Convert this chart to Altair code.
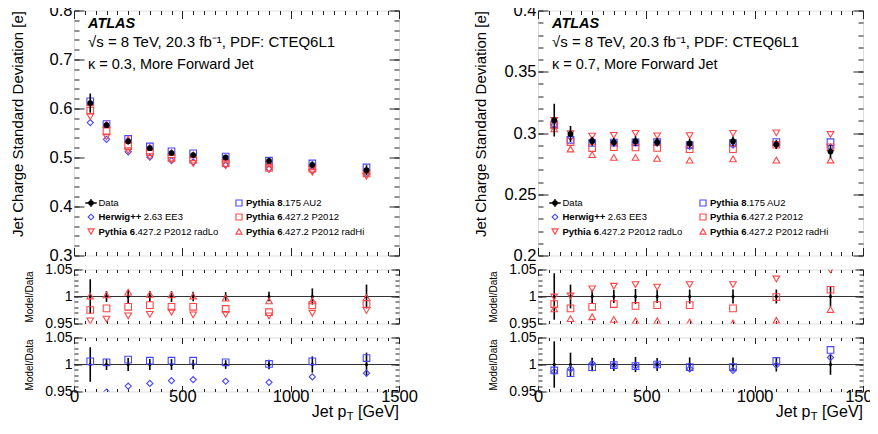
import altair as alt
import numpy as np
import pandas as pd

# ---------------- values ----------------
pt_bins = [75, 150, 250, 350, 450, 550, 700, 900, 1100, 1350]   # jet pT [GeV]

# kappa = 0.3, more forward jet
data_k03 = [0.611, 0.566, 0.533, 0.519, 0.509, 0.505, 0.500, 0.493, 0.485, 0.474]
relerr_k03 = [0.032, 0.010, 0.012, 0.010, 0.010, 0.009, 0.008, 0.009, 0.015, 0.022]
ratio_p6_k03 = [0.975, 0.978, 0.981, 0.984, 0.981, 0.981, 0.977, 0.971, 0.984, 0.986]
ratio_radlo_k03 = [0.955, 0.958, 0.964, 0.967, 0.971, 0.966, 0.967, 0.964, 0.969, 0.974]
ratio_radhi_k03 = [1.001, 1.003, 1.008, 1.004, 1.003, 1.001, 0.997, 0.992, 0.992, 0.998]
ratio_p8_k03 = [1.006, 1.004, 1.009, 1.007, 1.007, 1.007, 1.004, 1.001, 1.006, 1.012]
ratio_hw_k03 = [0.935, 0.949, 0.960, 0.965, 0.970, 0.972, 0.969, 0.967, 0.977, 0.984]

# kappa = 0.7, more forward jet
data_k07 = [0.3105, 0.2992, 0.2933, 0.2925, 0.2933, 0.2925, 0.2915, 0.2933, 0.2907, 0.2848]
relerr_k07 = [0.043, 0.022, 0.0125, 0.012, 0.014, 0.012, 0.013, 0.013, 0.013, 0.019]
ratio_p6_k07 = [0.986, 0.978, 0.981, 0.986, 0.9825, 0.984, 0.984, 0.978, 0.999, 1.0125]
ratio_radlo_k07 = [0.999, 1.001, 1.014, 1.019, 1.022, 1.0175, 1.022, 1.022, 1.0325, 1.049]
ratio_radhi_k07 = [0.977, 0.959, 0.9625, 0.9575, 0.955, 0.955, 0.953, 0.951, 0.956, 0.976]
ratio_p8_k07 = [0.989, 0.984, 0.995, 0.999, 0.997, 1.000, 0.995, 0.995, 1.0065, 1.027]
ratio_hw_k07 = [0.987, 0.992, 1.002, 0.999, 0.997, 1.000, 0.992, 0.989, 0.999, 1.013]

# text
atlas_label = "ATLAS"
energy_label = "\u221as = 8 TeV, 20.3 fb\u207b\u00b9, PDF: CTEQ6L1"
kappa_labels = ["\u03ba = 0.3, More Forward Jet", "\u03ba = 0.7, More Forward Jet"]
ytitle_main = "Jet Charge Standard Deviation [e]"
ytitle_ratio = "Model/Data"
x_ticks_major = [0, 500, 1000, 1500]
y_ticks_k03 = [0.3, 0.4, 0.5, 0.6, 0.7, 0.8]
y_ticks_k07 = [0.2, 0.25, 0.3, 0.35, 0.4]
y_ticks_ratio = [0.95, 1.0, 1.05]
legend_data_label = "Data"
legend_models = [
    # key, bold part, normal part, legend column, legend row
    ("hw", "Herwig++", "2.63 EE3", 0, 1),
    ("radlo", "Pythia 6", ".427.2 P2012 radLo", 0, 2),
    ("p8", "Pythia 8", ".175 AU2", 1, 0),
    ("p6", "Pythia 6", ".427.2 P2012", 1, 1),
    ("radhi", "Pythia 6", ".427.2 P2012 radHi", 1, 2),
]

# ---------------- style ----------------
FONT = "Liberation Sans"
BLUE = "#4646ff"
RED = "#ff4646"
STYLE = {
    "p8": dict(shape="square", color=BLUE, size=44),
    "hw": dict(shape="diamond", color=BLUE, size=38),
    "p6": dict(shape="square", color=RED, size=44),
    "radlo": dict(shape="triangle-down", color=RED, size=44),
    "radhi": dict(shape="triangle-up", color=RED, size=44),
}
W, HM, HR = 325, 245, 54
XS = alt.Scale(domain=[0, 1500], nice=False, zero=False)

BOLD_W = {"P": 667, "y": 556, "t": 333, "h": 611, "i": 278, "a": 556, " ": 278,
          "6": 556, "8": 556, "H": 722, "e": 556, "r": 389, "w": 778, "g": 611, "+": 584}


def bold_width(s, size):
    return sum(BOLD_W.get(c, 556) for c in s) * size / 1000.0


def nudge(values, dom):
    eps = (dom[1] - dom[0]) * 1e-7
    out = []
    for v in values:
        if abs(v - dom[0]) < 1e-12:
            v = v + eps
        elif abs(v - dom[1]) < 1e-12:
            v = v - eps
        out.append(v)
    return out


def ax(orient, values, tick, labels=False, title=None, lsize=15, tsize=14, tpad=0,
       anchor=None, lpad=2, fmt=".3~f"):
    kw = dict(orient=orient, values=values, tickSize=tick, offset=-tick, domain=False,
              grid=False, labels=labels, ticks=True, tickColor="#222222", tickWidth=1,
              labelFlush=False, labelOverlap=False, format=fmt, labelFont=FONT,
              labelFontSize=lsize, labelColor="#000000", labelPadding=lpad, title=title)
    if title is not None:
        kw.update(titleFont=FONT, titleFontSize=tsize, titleFontWeight="normal",
                  titleColor="#000000", titlePadding=tpad)
        if anchor:
            kw["titleAnchor"] = anchor
    return alt.Axis(**kw)


def axis_layers(df, yfield, ys, ydom, ymaj, ymin, xlen, ylen, xlabels, ytitle, ylsize,
                ytsize, ytpad, anchor):
    xmaj = nudge(x_ticks_major, [0, 1500])
    xmin = nudge(list(range(0, 1501, 50)), [0, 1500])
    ymaj = nudge(ymaj, ydom)
    ymin = nudge(ymin, ydom)
    specs = [
        (ax("bottom", xmaj, xlen[0], labels=xlabels, lsize=16.5, lpad=-3, fmt=".0f"),
         ax("left", ymaj, ylen[0], labels=True, title=ytitle, lsize=ylsize, tsize=ytsize,
            tpad=ytpad, anchor=anchor)),
        (ax("bottom", xmin, xlen[1]), ax("left", ymin, ylen[1])),
        (ax("top", xmaj, xlen[0]), ax("right", ymaj, ylen[0])),
        (ax("top", xmin, xlen[1]), ax("right", ymin, ylen[1])),
    ]
    out = []
    for a, b in specs:
        out.append(alt.Chart(df).mark_point(opacity=0).encode(
            x=alt.X("pt:Q", scale=XS, axis=a),
            y=alt.Y(yfield, scale=ys, axis=b)))
    return out


def model_layer(df, key, ys, field, clip=False):
    st = STYLE[key]
    return alt.Chart(df).mark_point(shape=st["shape"], filled=False, size=st["size"],
                                    strokeWidth=1.1, color=st["color"], opacity=1,
                                    clip=clip).encode(
        x=alt.X("pt:Q", scale=XS, axis=None),
        y=alt.Y(field, scale=ys, axis=None))


def text_layer(txt, x, y, size, weight="normal", style="normal", align="left",
               baseline="alphabetic"):
    one = pd.DataFrame({"k": [0]})
    return alt.Chart(one).mark_text(font=FONT, fontSize=size, fontWeight=weight,
                                    fontStyle=style, align=align, baseline=baseline,
                                    color="#000000").encode(
        x=alt.value(x), y=alt.value(y), text=alt.value(txt))


def main_panel(data, relerr, ratios, ydom, ymaj, ymin, kappa_text, ytpad):
    d = pd.DataFrame({"pt": pt_bins, "val": data, "err": relerr})
    d["lo"] = d["val"] * (1 - d["err"])
    d["hi"] = d["val"] * (1 + d["err"])
    ys = alt.Scale(domain=ydom, nice=False, zero=False)
    layers = axis_layers(d, "val:Q", ys, ydom, ymaj, ymin, (8, 4), (10, 5), False,
                         ytitle_main, 16.5, 15, ytpad, "end")
    for key in ["hw", "p8", "p6", "radlo", "radhi"]:
        m = pd.DataFrame({"pt": pt_bins,
                          "val": np.array(data) * np.array(ratios[key])})
        layers.append(model_layer(m, key, ys, "val:Q"))
    layers.append(alt.Chart(d).mark_rule(color="#000000", strokeWidth=1.6).encode(
        x=alt.X("pt:Q", scale=XS, axis=None),
        y=alt.Y("lo:Q", scale=ys, axis=None), y2="hi:Q"))
    layers.append(alt.Chart(d).mark_point(shape="circle", filled=True, color="#000000",
                                          size=34, opacity=1).encode(
        x=alt.X("pt:Q", scale=XS, axis=None),
        y=alt.Y("val:Q", scale=ys, axis=None)))
    # header text
    layers.append(text_layer(atlas_label, 14, 17, 14.5, weight="bold", style="italic"))
    layers.append(text_layer(energy_label, 14, 36, 15))
    layers.append(text_layer(kappa_text, 14, 58, 14.5))
    # legend
    one = pd.DataFrame({"k": [0]})
    rows = [192.5, 206.5, 221]
    cols_m = [17, 165]
    cols_t = [24.5, 172]
    fs = 9.5
    layers.append(alt.Chart(one).mark_point(shape="M-1,0H1M0,-0.7V0.7", filled=False,
                                            size=130, strokeWidth=1.3, color="#000000",
                                            opacity=1).encode(
        x=alt.value(cols_m[0]), y=alt.value(rows[0])))
    layers.append(alt.Chart(one).mark_point(shape="circle", filled=True, size=30,
                                            color="#000000", opacity=1).encode(
        x=alt.value(cols_m[0]), y=alt.value(rows[0])))
    layers.append(text_layer(legend_data_label, cols_t[0], rows[0], fs, baseline="middle"))
    for key, bpart, npart, c, r in legend_models:
        st = STYLE[key]
        layers.append(alt.Chart(one).mark_point(shape=st["shape"], filled=False,
                                                size=st["size"] * 0.85, strokeWidth=1.1,
                                                color=st["color"], opacity=1).encode(
            x=alt.value(cols_m[c]), y=alt.value(rows[r])))
        layers.append(text_layer(bpart, cols_t[c], rows[r], fs, weight="bold",
                                 baseline="middle"))
        gap = 2.6 if npart[0] != "." else 0
        layers.append(text_layer(npart, cols_t[c] + bold_width(bpart, fs) + gap, rows[r],
                                 fs, baseline="middle"))
    return alt.layer(*layers).resolve_axis(x="independent", y="independent").properties(
        width=W, height=HM)


def ratio_panel(relerr, ratios, keys, bottom, ytpad):
    err = np.array(relerr)
    d = pd.DataFrame({"pt": pt_bins, "one": 1.0, "lo": 1 - err, "hi": 1 + err})
    ydom = [0.95, 1.05]
    ys = alt.Scale(domain=ydom, nice=False, zero=False)
    ymin = [round(0.95 + 0.01 * i, 3) for i in range(11)]
    layers = axis_layers(d, "one:Q", ys, ydom, y_ticks_ratio, ymin, (6, 3), (8, 4), bottom,
                         ytitle_ratio, 14, 10, ytpad, None)
    line = pd.DataFrame({"one": [1.0]})
    layers.append(alt.Chart(line).mark_rule(color="#333333", strokeWidth=1).encode(
        y=alt.Y("one:Q", scale=ys, axis=None)))
    layers.append(alt.Chart(d).mark_rule(color="#000000", strokeWidth=1.6).encode(
        x=alt.X("pt:Q", scale=XS, axis=None),
        y=alt.Y("lo:Q", scale=ys, axis=None), y2="hi:Q"))
    layers.append(alt.Chart(d).mark_point(shape="circle", filled=True, color="#000000",
                                          size=10, opacity=1).encode(
        x=alt.X("pt:Q", scale=XS, axis=None),
        y=alt.Y("one:Q", scale=ys, axis=None)))
    for key in keys:
        m = pd.DataFrame({"pt": pt_bins, "r": ratios[key]})
        layers.append(model_layer(m, key, ys, "r:Q", clip=True))
    if bottom:
        layers.append(text_layer("[GeV]", W, HR + 25.5, 16, align="right"))
        layers.append(text_layer("T", W - 45.5, HR + 28.5, 11, align="right"))
        layers.append(text_layer("Jet p", W - 52.5, HR + 25.5, 16, align="right"))
    return alt.layer(*layers).resolve_axis(x="independent", y="independent").properties(
        width=W, height=HR)


ratios_k03 = {"p6": ratio_p6_k03, "radlo": ratio_radlo_k03, "radhi": ratio_radhi_k03,
              "p8": ratio_p8_k03, "hw": ratio_hw_k03}
ratios_k07 = {"p6": ratio_p6_k07, "radlo": ratio_radlo_k07, "radhi": ratio_radhi_k07,
              "p8": ratio_p8_k07, "hw": ratio_hw_k07}

ymin_k03 = [round(0.3 + 0.02 * i, 3) for i in range(26)]
ymin_k07 = [round(0.2 + 0.01 * i, 3) for i in range(21)]

mL = main_panel(data_k03, relerr_k03, ratios_k03, [0.3, 0.8], y_ticks_k03, ymin_k03,
                kappa_labels[0], 24)
mR = main_panel(data_k07, relerr_k07, ratios_k07, [0.2, 0.4], y_ticks_k07, ymin_k07,
                kappa_labels[1], 15)
r1L = ratio_panel(relerr_k03, ratios_k03, ["p6", "radlo", "radhi"], False, 10)
r1R = ratio_panel(relerr_k07, ratios_k07, ["p6", "radlo", "radhi"], False, 10)
r2L = ratio_panel(relerr_k03, ratios_k03, ["p8", "hw"], True, 10)
r2R = ratio_panel(relerr_k07, ratios_k07, ["p8", "hw"], True, 10)

chart = alt.concat(mL, mR, r1L, r1R, r2L, r2R, columns=2,
                   spacing={"row": 14, "column": 139}).properties(
    bounds="flush",
    padding={"left": 1, "top": -6.5, "right": -12, "bottom": -2},
).configure_view(stroke="#222222", strokeWidth=1).configure(background="white")

chart.save("out.html", embed_options={"renderer": "svg", "actions": False})
